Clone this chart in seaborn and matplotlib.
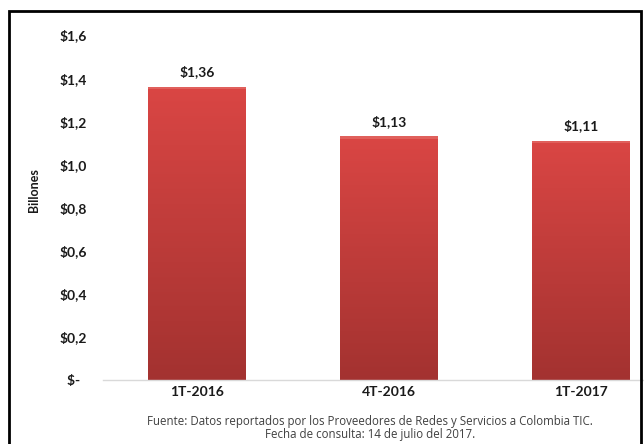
import numpy as np
import pandas as pd
import matplotlib
matplotlib.use("Agg")
import matplotlib.pyplot as plt
import seaborn as sns
from matplotlib.patches import Rectangle
from matplotlib.colors import LinearSegmentedColormap

categories = ["1T-2016", "4T-2016", "1T-2017"]
values = [1.36, 1.13, 1.11]
value_labels = ["$1,36", "$1,13", "$1,11"]
yticks = [0.0, 0.2, 0.4, 0.6, 0.8, 1.0, 1.2, 1.4, 1.6]
ytick_labels = ["$-  ", "$0,2", "$0,4", "$0,6", "$0,8", "$1,0", "$1,2", "$1,4", "$1,6"]
y_label = "Billones"
footer = ["Fuente: Datos reportados por los Proveedores de Redes y Servicios a Colombia TIC.",
          "Fecha de consulta: 14 de julio del 2017."]

sns.set_theme(style="white")
plt.rcParams['font.family'] = ['Lato', 'DejaVu Sans']

df = pd.DataFrame({"cat": categories, "val": values})

fig = plt.figure(figsize=(6.44, 4.44), dpi=100)
ax_left = 103
ax = fig.add_axes([ax_left/644, 1-380/444, 1-ax_left/644, (380-35)/444])

sns.barplot(data=df, x="cat", y="val", ax=ax, color="#C93C3A", width=0.51,
            saturation=1, edgecolor="none")

# gradient fill for each bar
cmap = LinearSegmentedColormap.from_list("redgrad", ["#A33230", "#DA4644"])
grad = np.linspace(0, 1, 256).reshape(-1, 1)
for p in ax.patches:
    x0, y0 = p.get_x(), p.get_y()
    w, h = p.get_width(), p.get_height()
    im = ax.imshow(grad, cmap=cmap, origin="lower", aspect="auto",
                   extent=[x0, x0 + w, y0, y0 + h], zorder=p.get_zorder() + 0.1)
    im.set_clip_path(p)
    ax.add_patch(Rectangle((x0, y0 + h - 0.012), w, 0.012, facecolor="#E0605C",
                           edgecolor="none", zorder=p.get_zorder() + 0.2))

ax.set_xlim(-0.49, 2.33)
ax.set_ylim(0, 1.6)
ax.set_yticks(yticks)
ax.set_yticklabels(ytick_labels, fontsize=10, fontweight="bold", color="#1a1a1a")
ax.tick_params(axis="x", labelsize=10, pad=4, length=0)
ax.tick_params(axis="y", length=0, pad=11.5)
for t in ax.get_xticklabels():
    t.set_fontweight("bold")
    t.set_color("#1a1a1a")
ax.set_xlabel("")
ax.set_ylabel(y_label, fontsize=9, fontweight="bold", color="#1a1a1a")
ax.yaxis.set_label_coords(-0.116, 0.55)

for s in ["top", "right", "left"]:
    ax.spines[s].set_visible(False)
ax.spines["bottom"].set_color("#d9d9d9")
ax.spines["bottom"].set_linewidth(1)

for i, (v, lab) in enumerate(zip(values, value_labels)):
    ax.annotate(lab, (i, v), xytext=(0, 6), textcoords="offset points",
                ha="center", va="bottom", fontsize=10, fontweight="bold", color="#1a1a1a")

fig.text(370/644, 1-421/444, footer[0], ha="center", va="center", fontsize=8.3,
         color="#404040", family=["Open Sans", "DejaVu Sans"])
fig.text(370/644, 1-434/444, footer[1], ha="center", va="center", fontsize=8.3,
         color="#404040", family=["Open Sans", "DejaVu Sans"])

fig.patches.append(Rectangle((9/644, -0.05), (641-9)/644, 1.05 - 11/444,
                             transform=fig.transFigure, fill=False,
                             edgecolor="black", linewidth=2, zorder=10))

fig.savefig("out.png", dpi=100)
